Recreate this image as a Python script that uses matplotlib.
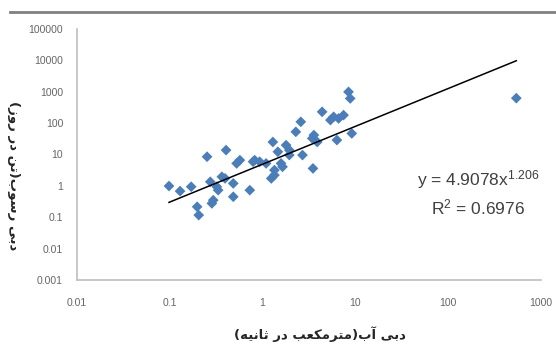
import numpy as np
import matplotlib
matplotlib.use("Agg")
import matplotlib.pyplot as plt
from matplotlib.lines import Line2D
from matplotlib.ticker import FixedLocator, FixedFormatter

# water discharge (m3/s) and suspended sediment (t/day)
flow = [0.098, 0.129, 0.170, 0.252, 0.404, 0.273, 0.321, 0.394, 0.483, 0.197,
        0.205, 0.284, 0.294, 0.483, 0.728, 0.525, 0.569, 0.789, 0.929, 1.09,
        1.29, 1.46, 1.79, 1.94, 1.58, 1.34, 1.24, 1.64, 2.28, 2.58,
        2.69, 3.49, 3.43, 3.88, 4.38, 5.38, 5.83, 6.59, 7.45, 6.32,
        8.43, 8.79, 9.14, 542, 0.364, 0.332, 3.57, 0.822, 1.34, 1.94]
sediment = [0.99, 0.68, 0.94, 8.5, 13.8, 1.35, 0.94, 1.73, 1.2, 0.216,
            0.117, 0.277, 0.35, 0.45, 0.73, 5.2, 6.6, 5.9, 5.9, 5.2,
            25, 12.2, 19.9, 13.8, 5.2, 2.2, 1.73, 4.05, 52.8, 110,
            9.6, 3.6, 32.6, 25, 229, 125, 159, 141, 180, 28.8,
            990, 612, 47, 625, 1.95, 0.73, 41.5, 6.6, 3.18, 9.6]

coef_a = 4.9078
coef_b = 1.206
r2 = 0.6976

x_ticks = [0.01, 0.1, 1, 10, 100, 1000]
x_tick_labels = ["0.01", "0.1", "1", "10", "100", "1000"]
y_ticks = [0.001, 0.01, 0.1, 1, 10, 100, 1000, 10000, 100000]
y_tick_labels = ["0.001", "0.01", "0.1", "1", "10", "100", "1000", "10000", "100000"]

x_title = "دبی آب(مترمکعب در ثانیه)"
y_title = "دبی رسوب(تن در روز)"

# matplotlib does no arabic shaping, so pick the joined forms by hand
FORMS = {
    'ا': ('\uFE8D', '\uFE8E', None, None),
    'آ': ('\uFE81', '\uFE82', None, None),
    'ب': ('\uFE8F', '\uFE90', '\uFE91', '\uFE92'),
    'ت': ('\uFE95', '\uFE96', '\uFE97', '\uFE98'),
    'ث': ('\uFE99', '\uFE9A', '\uFE9B', '\uFE9C'),
    'د': ('\uFEA9', '\uFEAA', None, None),
    'ر': ('\uFEAD', '\uFEAE', None, None),
    'ز': ('\uFEAF', '\uFEB0', None, None),
    'س': ('\uFEB1', '\uFEB2', '\uFEB3', '\uFEB4'),
    'ع': ('\uFEC9', '\uFECA', '\uFECB', '\uFECC'),
    'م': ('\uFEE1', '\uFEE2', '\uFEE3', '\uFEE4'),
    'ن': ('\uFEE5', '\uFEE6', '\uFEE7', '\uFEE8'),
    'ه': ('\uFEE9', '\uFEEA', '\uFEEB', '\uFEEC'),
    'و': ('\uFEED', '\uFEEE', None, None),
    'ی': ('\uFBFC', '\uFBFD', '\uFBFE', '\uFBFF'),
    'ک': ('\uFB8E', '\uFB8F', '\uFB90', '\uFB91'),
}


def shape(text):
    out = []
    for i, ch in enumerate(text):
        if ch not in FORMS:
            out.append(ch)
            continue
        iso, fin, ini, med = FORMS[ch]
        prev = text[i - 1] if i > 0 else ''
        nxt = text[i + 1] if i + 1 < len(text) else ''
        jp = prev in FORMS and FORMS[prev][2] is not None
        jn = ini is not None and nxt in FORMS
        if jp and jn:
            out.append(med)
        elif jp:
            out.append(fin)
        elif jn:
            out.append(ini)
        else:
            out.append(iso)
    vis = ''.join(out)[::-1]
    return vis.translate(str.maketrans('()', ')('))


plt.rcParams['mathtext.fontset'] = 'custom'
plt.rcParams['mathtext.rm'] = 'Liberation Sans'
plt.rcParams['mathtext.default'] = 'regular'
num_font = ['Liberation Sans', 'DejaVu Sans']

fig = plt.figure(figsize=(5.56, 3.6), dpi=100)
ax = fig.add_axes([77 / 556, 80 / 360, (541 - 77) / 556, (280 - 29) / 360])

ax.scatter(flow, sediment, marker='D', s=30, color='#4a7ebb', edgecolors='none', zorder=3)

xf = np.logspace(np.log10(min(flow)), np.log10(max(flow)), 50)
ax.plot(xf, coef_a * xf ** coef_b, color='black', lw=1.1, zorder=4)

ax.set_xscale('log')
ax.set_yscale('log')
ax.set_xlim(0.01, 1000)
ax.set_ylim(0.001, 100000)
ax.xaxis.set_major_locator(FixedLocator(x_ticks))
ax.xaxis.set_major_formatter(FixedFormatter(x_tick_labels))
ax.yaxis.set_major_locator(FixedLocator(y_ticks))
ax.yaxis.set_major_formatter(FixedFormatter(y_tick_labels))
ax.minorticks_off()
ax.tick_params(length=0, labelsize=7.5, labelcolor='#666666')
ax.tick_params(axis='x', pad=13)
ax.tick_params(axis='y', pad=10)
for lab in ax.get_xticklabels() + ax.get_yticklabels():
    lab.set_family(num_font)

for s in ['top', 'right']:
    ax.spines[s].set_visible(False)
for s in ['left', 'bottom']:
    ax.spines[s].set_color('#bfbfbf')
    ax.spines[s].set_linewidth(1.2)

ax.text(0.865, 0.40, r'y = %.4fx$^{%.3f}$' % (coef_a, coef_b), transform=ax.transAxes,
        ha='center', va='center', fontsize=12.5, color='#404040', family=num_font)
ax.text(0.865, 0.29, r'R$^{2}$ = %.4f' % r2, transform=ax.transAxes,
        ha='center', va='center', fontsize=12.5, color='#404040', family=num_font)

fig.text(320 / 556, 1 - 334 / 360, shape(x_title), ha='center', va='center',
         fontsize=9.5, fontweight='bold', color='#262626', family='DejaVu Sans')
fig.text(13 / 556, 1 - 176 / 360, shape(y_title), ha='center', va='center', rotation=270,
         fontsize=9.5, fontweight='bold', color='#262626', family='DejaVu Sans')

fig.add_artist(Line2D([10 / 556, 1], [1 - 12 / 360, 1 - 12 / 360], color='#808080', lw=2))

fig.savefig('out.png', dpi=100)
